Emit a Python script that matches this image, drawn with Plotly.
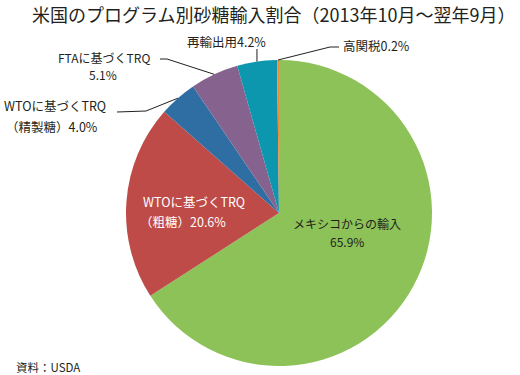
import math
import plotly.graph_objects as go

# ---- data ----
labels = ["メキシコからの輸入", "WTOに基づくTRQ（粗糖）", "WTOに基づくTRQ（精製糖）",
          "FTAに基づくTRQ", "再輸出用", "高関税"]
values = [65.9, 20.6, 4.0, 5.1, 4.2, 0.2]
colors = ["#8CC257", "#BE4B48", "#2F6EA3", "#86628E", "#0C97AE", "#F08A3A"]
title_text = "米国のプログラム別砂糖輸入割合（2013年10月～翌年9月）"
source_text = "資料：USDA"

W, H = 520, 375
CX, CY, R = 279, 213, 153  # pie centre / radius in pixels
FONT = "Noto Sans CJK JP"

def px(x):
    return x / W

def py(y):
    return 1 - y / H

fig = go.Figure(go.Pie(
    labels=labels, values=values, sort=False, direction="clockwise", rotation=0,
    marker=dict(colors=colors, line=dict(width=0)),
    textinfo="none", hoverinfo="label+percent", showlegend=False,
    domain=dict(x=[px(CX - R), px(CX + R)], y=[py(CY + R), py(CY - R)]),
))

# slice mid-points on the rim (derived from the data)
total = sum(values)
cum = 0
rim = []
for v in values:
    mid = (cum + v / 2) / total
    cum += v
    th = 2 * math.pi * mid
    rim.append((CX + R * math.sin(th), CY - R * math.cos(th)))

annotations = []
shapes = []

def ann(x, y, text, anchor="left", color="#231F20", size=12.5, align="left"):
    annotations.append(dict(x=px(x), y=py(y), xref="paper", yref="paper",
                            text=text, showarrow=False, xanchor=anchor, yanchor="middle",
                            align=align,
                            font=dict(family=FONT, size=size, color=color)))

def leader(points):
    path = "M " + " L ".join(f"{px(x)},{py(y)}" for x, y in points)
    shapes.append(dict(type="path", xref="paper", yref="paper", path=path,
                       line=dict(color="#231F20", width=1)))

# title & source
ann(30, 14, title_text, size=18)
ann(14, 367, source_text, size=11.5)

# inside labels
ann(141, 202, "WTOに基づくTRQ", color="white")
ann(138, 221, "（粗糖）" + f"{values[1]:.1f}%", color="white")
ann(347, 223, "メキシコからの輸入", anchor="center", size=12)
ann(347, 241, f"{values[0]:.1f}%", anchor="center", size=12)

# outside labels with leader lines
ann(2, 106, "WTOに基づくTRQ")
ann(4, 126, "（精製糖）" + f"{values[2]:.1f}%")
leader([(117, 112), (146, 111), rim[2]])

ann(104, 57, "FTAに基づくTRQ", anchor="center", size=12)
ann(103, 75, f"{values[3]:.1f}%", anchor="center", size=12)
leader([(160, 59), (167, 59), rim[3]])

ann(185, 42, "再輸出用" + f"{values[4]:.1f}%")
leader([(rim[4][0], 49), rim[4]])

ann(341, 45, "高関税" + f"{values[5]:.1f}%")
leader([(339, 47), (330, 47), rim[5]])

fig.update_layout(
    width=W, height=H, autosize=False,
    margin=dict(l=0, r=0, t=0, b=0),
    paper_bgcolor="white", plot_bgcolor="white",
    annotations=annotations, shapes=shapes,
    font=dict(family=FONT),
)

fig.write_html("out.html", config={"displayModeBar": False},
               post_script="document.body.style.margin='0';")
